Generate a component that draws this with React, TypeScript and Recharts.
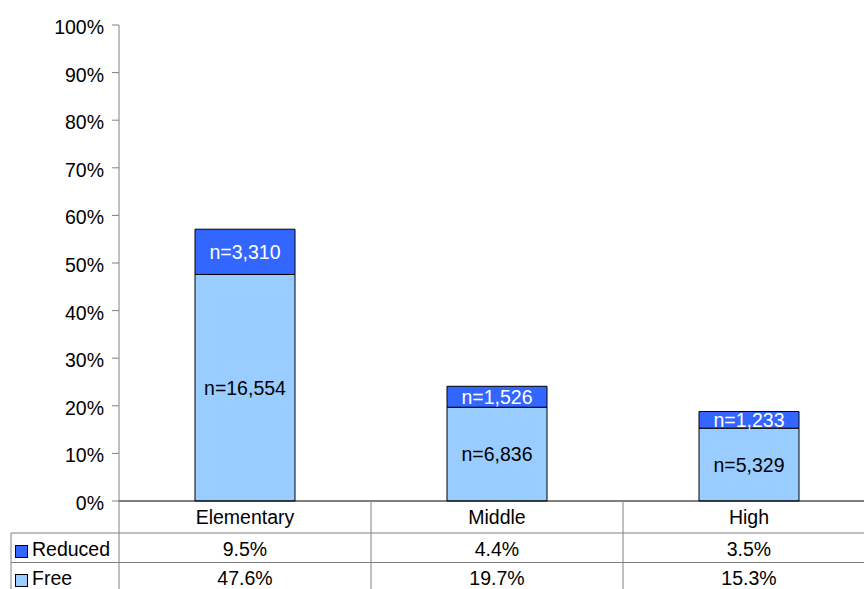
import React from 'react';
import { BarChart, Bar, XAxis, YAxis, LabelList } from 'recharts';

const categories = ['Elementary', 'Middle', 'High'];
const freePct = [47.6, 19.7, 15.3];
const reducedPct = [9.5, 4.4, 3.5];
const freeN = [16554, 6836, 5329];
const reducedN = [3310, 1526, 1233];
const yTicks = [0, 10, 20, 30, 40, 50, 60, 70, 80, 90, 100];

const FONT = '"Liberation Sans", Arial, sans-serif';
const FS = 19.5;
const GRID = '#808080';
const FREE = '#99CCFF';
const REDUCED = '#3366FF';

// layout
const W = 875;
const H = 601;
const AXIS_Y = 501;
const LEFT = 119;
const BAND = (W - LEFT) / categories.length;
const ROW1 = 533;
const ROW2 = 562.5;
const BOTTOM = 601;

const data = categories.map((cat, i) => ({
  cat,
  free: freePct[i],
  reduced: reducedPct[i],
  freeN: freeN[i],
  reducedN: reducedN[i],
}));

const fmtPct = (v: number) => v.toFixed(1) + '%';

function TableTick(props: any) {
  const { x, payload, index } = props;
  const row = data[index];
  const half = BAND / 2;
  return (
    <g fontFamily={FONT} fontSize={FS} fill="#000">
      <line x1={x + half} y1={AXIS_Y} x2={x + half} y2={BOTTOM} stroke={GRID} />
      <line x1={x - half} y1={ROW1} x2={x + half} y2={ROW1} stroke={GRID} />
      <line x1={x - half} y1={ROW2} x2={x + half} y2={ROW2} stroke={GRID} />
      <text x={x} y={524} textAnchor="middle">{payload.value}</text>
      <text x={x} y={556} textAnchor="middle">{fmtPct(row.reduced)}</text>
      <text x={x} y={585} textAnchor="middle">{fmtPct(row.free)}</text>
      {index === 0 && (
        <g>
          <line x1={LEFT} y1={AXIS_Y} x2={LEFT} y2={BOTTOM} stroke={GRID} />
          <line x1={11} y1={ROW1} x2={LEFT} y2={ROW1} stroke={GRID} />
          <line x1={11} y1={ROW2} x2={LEFT} y2={ROW2} stroke={GRID} />
          <line x1={11} y1={ROW1} x2={11} y2={BOTTOM} stroke={GRID} />
          <rect x={15.5} y={545.5} width={12} height={12} fill={REDUCED} stroke="#000" />
          <text x={32} y={556} textAnchor="start">Reduced</text>
          <rect x={15.5} y={574.5} width={12} height={12} fill={FREE} stroke="#000" />
          <text x={32} y={585} textAnchor="start">Free</text>
        </g>
      )}
    </g>
  );
}

function makeLabel(key: 'freeN' | 'reducedN', color: string) {
  return (props: any) => {
    const { x, y, width, height, index } = props;
    const v = data[index][key];
    return (
      <text
        x={x + width / 2}
        y={y + height / 2 + 7}
        textAnchor="middle"
        fontFamily={FONT}
        fontSize={FS}
        fill={color}
      >
        {'n=' + v.toLocaleString('en-US')}
      </text>
    );
  };
}

export default function App() {
  return (
    <div style={{ position: 'absolute', left: 0, top: 0, width: 864, height: 589, overflow: 'hidden', background: '#fff' }}>
      <BarChart
        width={W}
        height={H}
        data={data}
        margin={{ top: 25, right: 0, left: LEFT - 60, bottom: 0 }}
        barSize={100}
      >
        <YAxis
          width={60}
          domain={[0, 100]}
          ticks={yTicks}
          interval={0}
          tickFormatter={(v: number) => v + '%'}
          axisLine={{ stroke: GRID }}
          tickLine={{ stroke: GRID }}
          tickSize={7}
          tickMargin={8}
          tick={{ fill: '#000', fontSize: FS, fontFamily: FONT, dy: 2 }}
        />
        <XAxis
          dataKey="cat"
          height={H - AXIS_Y}
          axisLine={{ stroke: '#000' }}
          tickLine={false}
          interval={0}
          tick={<TableTick />}
        />
        <Bar dataKey="free" stackId="a" fill={FREE} stroke="#000" isAnimationActive={false}>
          <LabelList dataKey="freeN" content={makeLabel('freeN', '#000')} />
        </Bar>
        <Bar dataKey="reduced" stackId="a" fill={REDUCED} stroke="#000" isAnimationActive={false}>
          <LabelList dataKey="reducedN" content={makeLabel('reducedN', '#fff')} />
        </Bar>
      </BarChart>
    </div>
  );
}
